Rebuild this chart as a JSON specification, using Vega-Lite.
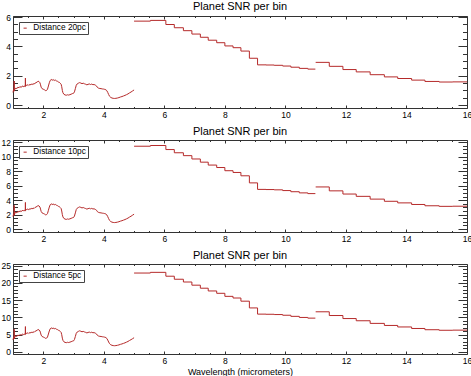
{
  "$schema": "https://vega.github.io/schema/vega-lite/v6.json",
  "padding": 0,
  "background": "white",
  "config": {
    "font": "Liberation Sans",
    "view": {"stroke": "#333", "strokeWidth": 1},
    "title": {"fontSize": 11, "fontWeight": "normal", "color": "black", "anchor": "middle", "offset": 1, "font": "Liberation Sans"},
    "axis": {"grid": false, "domain": false, "tickColor": "#333", "labelFont": "Liberation Sans", "labelFontSize": 8.5, "labelColor": "black", "labelFlush": false, "labelOverlap": false, "titleFont": "Liberation Sans", "titleFontSize": 9, "titleFontWeight": "normal", "titleColor": "black"},
    "legend": {"orient": "top-left", "offset": 6, "strokeColor": "#444", "fillColor": "white", "padding": 2, "symbolType": "stroke", "symbolSize": 10, "symbolStrokeWidth": 1, "labelFontSize": 8.3, "labelFont": "Liberation Sans", "labelColor": "black", "labelOffset": 4, "cornerRadius": 0}
  },
  "resolve": {"scale": {"color": "independent"}, "legend": {"color": "independent"}},
  "spacing": 4,
  "datasets": {
    "s20": [
      {"x":1.00,"y":0.86},{"x":1.02,"y":1.05},{"x":1.035,"y":0.98},{"x":1.04,"y":1.64},{"x":1.045,"y":0.95},{"x":1.06,"y":1.10},{"x":1.10,"y":1.16},{"x":1.13,"y":1.12},{"x":1.16,"y":1.22},{"x":1.20,"y":1.18},{"x":1.23,"y":1.27},{"x":1.26,"y":1.21},{"x":1.30,"y":1.26},{"x":1.33,"y":1.31},{"x":1.36,"y":1.24},{"x":1.39,"y":1.30},{"x":1.405,"y":1.27},{"x":1.41,"y":1.84},{"x":1.415,"y":1.28},{"x":1.44,"y":1.34},{"x":1.47,"y":1.39},{"x":1.50,"y":1.33},{"x":1.53,"y":1.40},{"x":1.56,"y":1.36},{"x":1.60,"y":1.43},{"x":1.63,"y":1.39},{"x":1.66,"y":1.45},{"x":1.70,"y":1.43},{"x":1.73,"y":1.50},{"x":1.76,"y":1.52},{"x":1.80,"y":1.58},{"x":1.83,"y":1.62},{"x":1.86,"y":1.60},{"x":1.89,"y":1.52},{"x":1.91,"y":1.38},{"x":1.93,"y":1.22},{"x":1.96,"y":1.12},{"x":2.00,"y":1.08},{"x":2.04,"y":1.04},{"x":2.08,"y":0.98},{"x":2.11,"y":1.00},{"x":2.14,"y":1.08},{"x":2.17,"y":1.30},{"x":2.20,"y":1.52},{"x":2.23,"y":1.68},{"x":2.26,"y":1.74},{"x":2.29,"y":1.72},{"x":2.32,"y":1.69},{"x":2.35,"y":1.73},{"x":2.38,"y":1.67},{"x":2.41,"y":1.70},{"x":2.44,"y":1.64},{"x":2.47,"y":1.62},{"x":2.50,"y":1.57},{"x":2.53,"y":1.55},{"x":2.56,"y":1.49},{"x":2.59,"y":1.42},{"x":2.61,"y":1.25},{"x":2.63,"y":1.00},{"x":2.65,"y":0.84},{"x":2.68,"y":0.74},{"x":2.72,"y":0.69},{"x":2.76,"y":0.67},{"x":2.80,"y":0.70},{"x":2.84,"y":0.68},{"x":2.88,"y":0.71},{"x":2.92,"y":0.74},{"x":2.96,"y":0.78},{"x":3.00,"y":0.80},{"x":3.03,"y":0.90},{"x":3.06,"y":1.12},{"x":3.09,"y":1.35},{"x":3.12,"y":1.44},{"x":3.16,"y":1.49},{"x":3.20,"y":1.53},{"x":3.24,"y":1.50},{"x":3.28,"y":1.46},{"x":3.32,"y":1.49},{"x":3.36,"y":1.45},{"x":3.40,"y":1.42},{"x":3.44,"y":1.38},{"x":3.48,"y":1.41},{"x":3.52,"y":1.44},{"x":3.56,"y":1.40},{"x":3.60,"y":1.43},{"x":3.64,"y":1.39},{"x":3.68,"y":1.40},{"x":3.72,"y":1.36},{"x":3.76,"y":1.30},{"x":3.79,"y":1.20},{"x":3.83,"y":1.15},{"x":3.87,"y":1.13},{"x":3.91,"y":1.12},{"x":3.95,"y":1.10},{"x":3.99,"y":1.09},{"x":4.03,"y":1.07},{"x":4.07,"y":1.04},{"x":4.10,"y":0.98},{"x":4.13,"y":0.86},{"x":4.16,"y":0.72},{"x":4.19,"y":0.60},{"x":4.23,"y":0.52},{"x":4.27,"y":0.48},{"x":4.31,"y":0.46},{"x":4.35,"y":0.45},{"x":4.40,"y":0.46},{"x":4.45,"y":0.48},{"x":4.50,"y":0.51},{"x":4.55,"y":0.55},{"x":4.60,"y":0.58},{"x":4.65,"y":0.62},{"x":4.70,"y":0.66},{"x":4.75,"y":0.71},{"x":4.80,"y":0.76},{"x":4.85,"y":0.83},{"x":4.90,"y":0.89},{"x":4.95,"y":0.96},{"x":5.00,"y":1.03}
    ],
    "b20": [
      {"s":"c2","x":5.00,"y":5.72},{"s":"c2","x":5.54,"y":5.77},{"s":"c2","x":6.05,"y":5.49},{"s":"c2","x":6.33,"y":5.27},{"s":"c2","x":6.63,"y":5.07},{"s":"c2","x":6.91,"y":4.84},{"s":"c2","x":7.19,"y":4.62},{"s":"c2","x":7.45,"y":4.42},{"s":"c2","x":7.73,"y":4.25},{"s":"c2","x":8.00,"y":4.03},{"s":"c2","x":8.27,"y":3.91},{"s":"c2","x":8.53,"y":3.68},{"s":"c2","x":8.81,"y":3.19},{"s":"c2","x":9.08,"y":2.74},{"s":"c2","x":9.36,"y":2.73},{"s":"c2","x":9.63,"y":2.71},{"s":"c2","x":9.91,"y":2.66},{"s":"c2","x":10.18,"y":2.58},{"s":"c2","x":10.46,"y":2.50},{"s":"c2","x":10.74,"y":2.45},{"s":"c2","x":10.99,"y":2.45},
      {"s":"c3","x":11.00,"y":2.91},{"s":"c3","x":11.45,"y":2.64},{"s":"c3","x":11.90,"y":2.42},{"s":"c3","x":12.34,"y":2.26},{"s":"c3","x":12.80,"y":2.07},{"s":"c3","x":13.27,"y":1.92},{"s":"c3","x":13.71,"y":1.81},{"s":"c3","x":14.17,"y":1.70},{"s":"c3","x":14.61,"y":1.61},{"s":"c3","x":15.08,"y":1.57},{"s":"c3","x":15.53,"y":1.58},{"s":"c3","x":16.00,"y":1.58}
    ],
    "s10": [
      {"x":1.00,"y":1.72},{"x":1.02,"y":2.10},{"x":1.035,"y":1.96},{"x":1.04,"y":3.28},{"x":1.045,"y":1.90},{"x":1.06,"y":2.20},{"x":1.10,"y":2.32},{"x":1.13,"y":2.24},{"x":1.16,"y":2.44},{"x":1.20,"y":2.36},{"x":1.23,"y":2.54},{"x":1.26,"y":2.42},{"x":1.30,"y":2.52},{"x":1.33,"y":2.62},{"x":1.36,"y":2.48},{"x":1.39,"y":2.60},{"x":1.405,"y":2.54},{"x":1.41,"y":3.68},{"x":1.415,"y":2.56},{"x":1.44,"y":2.68},{"x":1.47,"y":2.78},{"x":1.50,"y":2.66},{"x":1.53,"y":2.80},{"x":1.56,"y":2.72},{"x":1.60,"y":2.86},{"x":1.63,"y":2.78},{"x":1.66,"y":2.90},{"x":1.70,"y":2.86},{"x":1.73,"y":3.00},{"x":1.76,"y":3.04},{"x":1.80,"y":3.16},{"x":1.83,"y":3.24},{"x":1.86,"y":3.20},{"x":1.89,"y":3.04},{"x":1.91,"y":2.76},{"x":1.93,"y":2.44},{"x":1.96,"y":2.24},{"x":2.00,"y":2.16},{"x":2.04,"y":2.08},{"x":2.08,"y":1.96},{"x":2.11,"y":2.00},{"x":2.14,"y":2.16},{"x":2.17,"y":2.60},{"x":2.20,"y":3.04},{"x":2.23,"y":3.36},{"x":2.26,"y":3.48},{"x":2.29,"y":3.44},{"x":2.32,"y":3.38},{"x":2.35,"y":3.46},{"x":2.38,"y":3.34},{"x":2.41,"y":3.40},{"x":2.44,"y":3.28},{"x":2.47,"y":3.24},{"x":2.50,"y":3.14},{"x":2.53,"y":3.10},{"x":2.56,"y":2.98},{"x":2.59,"y":2.84},{"x":2.61,"y":2.50},{"x":2.63,"y":2.00},{"x":2.65,"y":1.68},{"x":2.68,"y":1.48},{"x":2.72,"y":1.38},{"x":2.76,"y":1.34},{"x":2.80,"y":1.40},{"x":2.84,"y":1.36},{"x":2.88,"y":1.42},{"x":2.92,"y":1.48},{"x":2.96,"y":1.56},{"x":3.00,"y":1.60},{"x":3.03,"y":1.80},{"x":3.06,"y":2.24},{"x":3.09,"y":2.70},{"x":3.12,"y":2.88},{"x":3.16,"y":2.98},{"x":3.20,"y":3.06},{"x":3.24,"y":3.00},{"x":3.28,"y":2.92},{"x":3.32,"y":2.98},{"x":3.36,"y":2.90},{"x":3.40,"y":2.84},{"x":3.44,"y":2.76},{"x":3.48,"y":2.82},{"x":3.52,"y":2.88},{"x":3.56,"y":2.80},{"x":3.60,"y":2.86},{"x":3.64,"y":2.78},{"x":3.68,"y":2.80},{"x":3.72,"y":2.72},{"x":3.76,"y":2.60},{"x":3.79,"y":2.40},{"x":3.83,"y":2.30},{"x":3.87,"y":2.26},{"x":3.91,"y":2.24},{"x":3.95,"y":2.20},{"x":3.99,"y":2.18},{"x":4.03,"y":2.14},{"x":4.07,"y":2.08},{"x":4.10,"y":1.96},{"x":4.13,"y":1.72},{"x":4.16,"y":1.44},{"x":4.19,"y":1.20},{"x":4.23,"y":1.04},{"x":4.27,"y":0.96},{"x":4.31,"y":0.92},{"x":4.35,"y":0.90},{"x":4.40,"y":0.92},{"x":4.45,"y":0.96},{"x":4.50,"y":1.02},{"x":4.55,"y":1.10},{"x":4.60,"y":1.16},{"x":4.65,"y":1.24},{"x":4.70,"y":1.32},{"x":4.75,"y":1.42},{"x":4.80,"y":1.52},{"x":4.85,"y":1.66},{"x":4.90,"y":1.78},{"x":4.95,"y":1.92},{"x":5.00,"y":2.06}
    ],
    "b10": [
      {"s":"c2","x":5.00,"y":11.44},{"s":"c2","x":5.54,"y":11.54},{"s":"c2","x":6.05,"y":10.98},{"s":"c2","x":6.33,"y":10.54},{"s":"c2","x":6.63,"y":10.14},{"s":"c2","x":6.91,"y":9.68},{"s":"c2","x":7.19,"y":9.24},{"s":"c2","x":7.45,"y":8.84},{"s":"c2","x":7.73,"y":8.50},{"s":"c2","x":8.00,"y":8.06},{"s":"c2","x":8.27,"y":7.82},{"s":"c2","x":8.53,"y":7.36},{"s":"c2","x":8.81,"y":6.38},{"s":"c2","x":9.08,"y":5.48},{"s":"c2","x":9.36,"y":5.46},{"s":"c2","x":9.63,"y":5.42},{"s":"c2","x":9.91,"y":5.32},{"s":"c2","x":10.18,"y":5.16},{"s":"c2","x":10.46,"y":5.00},{"s":"c2","x":10.74,"y":4.90},{"s":"c2","x":10.99,"y":4.90},
      {"s":"c3","x":11.00,"y":5.82},{"s":"c3","x":11.45,"y":5.28},{"s":"c3","x":11.90,"y":4.84},{"s":"c3","x":12.34,"y":4.52},{"s":"c3","x":12.80,"y":4.14},{"s":"c3","x":13.27,"y":3.84},{"s":"c3","x":13.71,"y":3.62},{"s":"c3","x":14.17,"y":3.40},{"s":"c3","x":14.61,"y":3.22},{"s":"c3","x":15.08,"y":3.14},{"s":"c3","x":15.53,"y":3.16},{"s":"c3","x":16.00,"y":3.16}
    ],
    "s5": [
      {"x":1.00,"y":3.44},{"x":1.02,"y":4.20},{"x":1.035,"y":3.92},{"x":1.04,"y":6.56},{"x":1.045,"y":3.80},{"x":1.06,"y":4.40},{"x":1.10,"y":4.64},{"x":1.13,"y":4.48},{"x":1.16,"y":4.88},{"x":1.20,"y":4.72},{"x":1.23,"y":5.08},{"x":1.26,"y":4.84},{"x":1.30,"y":5.04},{"x":1.33,"y":5.24},{"x":1.36,"y":4.96},{"x":1.39,"y":5.20},{"x":1.405,"y":5.08},{"x":1.41,"y":7.36},{"x":1.415,"y":5.12},{"x":1.44,"y":5.36},{"x":1.47,"y":5.56},{"x":1.50,"y":5.32},{"x":1.53,"y":5.60},{"x":1.56,"y":5.44},{"x":1.60,"y":5.72},{"x":1.63,"y":5.56},{"x":1.66,"y":5.80},{"x":1.70,"y":5.72},{"x":1.73,"y":6.00},{"x":1.76,"y":6.08},{"x":1.80,"y":6.32},{"x":1.83,"y":6.48},{"x":1.86,"y":6.40},{"x":1.89,"y":6.08},{"x":1.91,"y":5.52},{"x":1.93,"y":4.88},{"x":1.96,"y":4.48},{"x":2.00,"y":4.32},{"x":2.04,"y":4.16},{"x":2.08,"y":3.92},{"x":2.11,"y":4.00},{"x":2.14,"y":4.32},{"x":2.17,"y":5.20},{"x":2.20,"y":6.08},{"x":2.23,"y":6.72},{"x":2.26,"y":6.96},{"x":2.29,"y":6.88},{"x":2.32,"y":6.76},{"x":2.35,"y":6.92},{"x":2.38,"y":6.68},{"x":2.41,"y":6.80},{"x":2.44,"y":6.56},{"x":2.47,"y":6.48},{"x":2.50,"y":6.28},{"x":2.53,"y":6.20},{"x":2.56,"y":5.96},{"x":2.59,"y":5.68},{"x":2.61,"y":5.00},{"x":2.63,"y":4.00},{"x":2.65,"y":3.36},{"x":2.68,"y":2.96},{"x":2.72,"y":2.76},{"x":2.76,"y":2.68},{"x":2.80,"y":2.80},{"x":2.84,"y":2.72},{"x":2.88,"y":2.84},{"x":2.92,"y":2.96},{"x":2.96,"y":3.12},{"x":3.00,"y":3.20},{"x":3.03,"y":3.60},{"x":3.06,"y":4.48},{"x":3.09,"y":5.40},{"x":3.12,"y":5.76},{"x":3.16,"y":5.96},{"x":3.20,"y":6.12},{"x":3.24,"y":6.00},{"x":3.28,"y":5.84},{"x":3.32,"y":5.96},{"x":3.36,"y":5.80},{"x":3.40,"y":5.68},{"x":3.44,"y":5.52},{"x":3.48,"y":5.64},{"x":3.52,"y":5.76},{"x":3.56,"y":5.60},{"x":3.60,"y":5.72},{"x":3.64,"y":5.56},{"x":3.68,"y":5.60},{"x":3.72,"y":5.44},{"x":3.76,"y":5.20},{"x":3.79,"y":4.80},{"x":3.83,"y":4.60},{"x":3.87,"y":4.52},{"x":3.91,"y":4.48},{"x":3.95,"y":4.40},{"x":3.99,"y":4.36},{"x":4.03,"y":4.28},{"x":4.07,"y":4.16},{"x":4.10,"y":3.92},{"x":4.13,"y":3.44},{"x":4.16,"y":2.88},{"x":4.19,"y":2.40},{"x":4.23,"y":2.08},{"x":4.27,"y":1.92},{"x":4.31,"y":1.84},{"x":4.35,"y":1.80},{"x":4.40,"y":1.84},{"x":4.45,"y":1.92},{"x":4.50,"y":2.04},{"x":4.55,"y":2.20},{"x":4.60,"y":2.32},{"x":4.65,"y":2.48},{"x":4.70,"y":2.64},{"x":4.75,"y":2.84},{"x":4.80,"y":3.04},{"x":4.85,"y":3.32},{"x":4.90,"y":3.56},{"x":4.95,"y":3.84},{"x":5.00,"y":4.12}
    ],
    "b5": [
      {"s":"c2","x":5.00,"y":22.88},{"s":"c2","x":5.54,"y":23.08},{"s":"c2","x":6.05,"y":21.96},{"s":"c2","x":6.33,"y":21.08},{"s":"c2","x":6.63,"y":20.28},{"s":"c2","x":6.91,"y":19.36},{"s":"c2","x":7.19,"y":18.48},{"s":"c2","x":7.45,"y":17.68},{"s":"c2","x":7.73,"y":17.00},{"s":"c2","x":8.00,"y":16.12},{"s":"c2","x":8.27,"y":15.64},{"s":"c2","x":8.53,"y":14.72},{"s":"c2","x":8.81,"y":12.76},{"s":"c2","x":9.08,"y":10.96},{"s":"c2","x":9.36,"y":10.92},{"s":"c2","x":9.63,"y":10.84},{"s":"c2","x":9.91,"y":10.64},{"s":"c2","x":10.18,"y":10.32},{"s":"c2","x":10.46,"y":10.00},{"s":"c2","x":10.74,"y":9.80},{"s":"c2","x":10.99,"y":9.80},
      {"s":"c3","x":11.00,"y":11.64},{"s":"c3","x":11.45,"y":10.56},{"s":"c3","x":11.90,"y":9.68},{"s":"c3","x":12.34,"y":9.04},{"s":"c3","x":12.80,"y":8.28},{"s":"c3","x":13.27,"y":7.68},{"s":"c3","x":13.71,"y":7.24},{"s":"c3","x":14.17,"y":6.80},{"s":"c3","x":14.61,"y":6.44},{"s":"c3","x":15.08,"y":6.28},{"s":"c3","x":15.53,"y":6.32},{"s":"c3","x":16.00,"y":6.32}
    ]
  },
  "vconcat": [
    {
      "title": "Planet SNR per bin",
      "width": 454, "height": 92,
      "resolve": {"axis": {"x": "independent", "y": "independent"}},
      "layer": [
        {"data": {"name": "s20"}, "mark": {"type": "line", "strokeWidth": 1},
         "encoding": {
           "x": {"field": "x", "type": "quantitative", "scale": {"domain": [1, 16], "nice": false, "zero": false},
                 "axis": {"title": null, "values": [1,1.5,2,2.5,3,3.5,4,4.5,5,5.5,6,6.5,7,7.5,8,8.5,9,9.5,10,10.5,11,11.5,12,12.5,13,13.5,14,14.5,15,15.5,16], "labelExpr": "datum.value % 2 == 0 ? format(datum.value, 'd') : ''", "tickSize": {"condition": {"test": "datum.value % 2 == 0", "value": -3}, "value": -1.5}, "labelPadding": 5}},
           "y": {"field": "y", "type": "quantitative", "scale": {"domain": [-0.2, 6.07], "nice": false, "zero": false},
                 "axis": {"title": null, "values": [0,0.5,1,1.5,2,2.5,3,3.5,4,4.5,5,5.5,6], "labelExpr": "datum.value % 2 == 0 ? format(datum.value, 'd') : ''", "tickSize": {"condition": {"test": "datum.value % 2 == 0", "value": -9}, "value": -4.5}, "labelPadding": 11.5}},
           "color": {"datum": "Distance 20pc", "type": "nominal", "scale": {"range": ["#b52a2a"]}, "legend": {"title": null, "encode": {"symbols": {"update": {"stroke": {"value": "#999"}}}}}}
         }},
        {"data": {"name": "b20"}, "mark": {"type": "line", "strokeWidth": 1, "interpolate": "step-after"},
         "encoding": {
           "x": {"field": "x", "type": "quantitative", "scale": {"domain": [1, 16], "nice": false, "zero": false}, "axis": null},
           "y": {"field": "y", "type": "quantitative", "scale": {"domain": [-0.2, 6.07], "nice": false, "zero": false}, "axis": null},
           "detail": {"field": "s", "type": "nominal"},
           "color": {"datum": "Distance 20pc", "type": "nominal"}
         }},
        {"data": {"name": "b20"}, "mark": {"type": "line", "opacity": 0},
         "encoding": {
           "x": {"field": "x", "type": "quantitative", "scale": {"domain": [1, 16], "nice": false, "zero": false},
                 "axis": {"orient": "top", "title": null, "labels": false, "values": [1,1.5,2,2.5,3,3.5,4,4.5,5,5.5,6,6.5,7,7.5,8,8.5,9,9.5,10,10.5,11,11.5,12,12.5,13,13.5,14,14.5,15,15.5,16], "tickSize": {"condition": {"test": "datum.value % 2 == 0", "value": -3}, "value": -1.5}}},
           "y": {"field": "y", "type": "quantitative", "scale": {"domain": [-0.2, 6.07], "nice": false, "zero": false},
                 "axis": {"orient": "right", "title": null, "labels": false, "values": [0,0.5,1,1.5,2,2.5,3,3.5,4,4.5,5,5.5,6], "tickSize": {"condition": {"test": "datum.value % 2 == 0", "value": -9}, "value": -4.5}}},
           "detail": {"field": "s", "type": "nominal"}
         }}
      ]
    },
    {
      "title": "Planet SNR per bin",
      "width": 454, "height": 92,
      "resolve": {"axis": {"x": "independent", "y": "independent"}},
      "layer": [
        {"data": {"name": "s10"}, "mark": {"type": "line", "strokeWidth": 1},
         "encoding": {
           "x": {"field": "x", "type": "quantitative", "scale": {"domain": [1, 16], "nice": false, "zero": false},
                 "axis": {"title": null, "values": [1,1.5,2,2.5,3,3.5,4,4.5,5,5.5,6,6.5,7,7.5,8,8.5,9,9.5,10,10.5,11,11.5,12,12.5,13,13.5,14,14.5,15,15.5,16], "labelExpr": "datum.value % 2 == 0 ? format(datum.value, 'd') : ''", "tickSize": {"condition": {"test": "datum.value % 2 == 0", "value": -3}, "value": -1.5}, "labelPadding": 5}},
           "y": {"field": "y", "type": "quantitative", "scale": {"domain": [-0.4, 12.3], "nice": false, "zero": false},
                 "axis": {"title": null, "values": [0,0.5,1,1.5,2,2.5,3,3.5,4,4.5,5,5.5,6,6.5,7,7.5,8,8.5,9,9.5,10,10.5,11,11.5,12], "labelExpr": "datum.value % 2 == 0 ? format(datum.value, 'd') : ''", "tickSize": {"condition": {"test": "datum.value % 2 == 0", "value": -9}, "value": -4.5}, "labelPadding": 11.5}},
           "color": {"datum": "Distance 10pc", "type": "nominal", "scale": {"range": ["#b52a2a"]}, "legend": {"title": null, "encode": {"symbols": {"update": {"stroke": {"value": "#999"}}}}}}
         }},
        {"data": {"name": "b10"}, "mark": {"type": "line", "strokeWidth": 1, "interpolate": "step-after"},
         "encoding": {
           "x": {"field": "x", "type": "quantitative", "scale": {"domain": [1, 16], "nice": false, "zero": false}, "axis": null},
           "y": {"field": "y", "type": "quantitative", "scale": {"domain": [-0.4, 12.3], "nice": false, "zero": false}, "axis": null},
           "detail": {"field": "s", "type": "nominal"},
           "color": {"datum": "Distance 10pc", "type": "nominal"}
         }},
        {"data": {"name": "b10"}, "mark": {"type": "line", "opacity": 0},
         "encoding": {
           "x": {"field": "x", "type": "quantitative", "scale": {"domain": [1, 16], "nice": false, "zero": false},
                 "axis": {"orient": "top", "title": null, "labels": false, "values": [1,1.5,2,2.5,3,3.5,4,4.5,5,5.5,6,6.5,7,7.5,8,8.5,9,9.5,10,10.5,11,11.5,12,12.5,13,13.5,14,14.5,15,15.5,16], "tickSize": {"condition": {"test": "datum.value % 2 == 0", "value": -3}, "value": -1.5}}},
           "y": {"field": "y", "type": "quantitative", "scale": {"domain": [-0.4, 12.3], "nice": false, "zero": false},
                 "axis": {"orient": "right", "title": null, "labels": false, "values": [0,0.5,1,1.5,2,2.5,3,3.5,4,4.5,5,5.5,6,6.5,7,7.5,8,8.5,9,9.5,10,10.5,11,11.5,12], "tickSize": {"condition": {"test": "datum.value % 2 == 0", "value": -9}, "value": -4.5}}},
           "detail": {"field": "s", "type": "nominal"}
         }}
      ]
    },
    {
      "title": "Planet SNR per bin",
      "width": 454, "height": 90,
      "resolve": {"axis": {"x": "independent", "y": "independent"}},
      "layer": [
        {"data": {"name": "s5"}, "mark": {"type": "line", "strokeWidth": 1},
         "encoding": {
           "x": {"field": "x", "type": "quantitative", "scale": {"domain": [1, 16], "nice": false, "zero": false},
                 "axis": {"title": "Wavelength (micrometers)", "titlePadding": 1, "values": [1,1.5,2,2.5,3,3.5,4,4.5,5,5.5,6,6.5,7,7.5,8,8.5,9,9.5,10,10.5,11,11.5,12,12.5,13,13.5,14,14.5,15,15.5,16], "labelExpr": "datum.value % 2 == 0 ? format(datum.value, 'd') : ''", "tickSize": {"condition": {"test": "datum.value % 2 == 0", "value": -3}, "value": -1.5}, "labelPadding": 5}},
           "y": {"field": "y", "type": "quantitative", "scale": {"domain": [-0.6, 25.5], "nice": false, "zero": false},
                 "axis": {"title": null, "values": [0,1,2,3,4,5,6,7,8,9,10,11,12,13,14,15,16,17,18,19,20,21,22,23,24,25], "labelExpr": "datum.value % 5 == 0 ? format(datum.value, 'd') : ''", "tickSize": {"condition": {"test": "datum.value % 5 == 0", "value": -9}, "value": -4.5}, "labelPadding": 11.5}},
           "color": {"datum": "Distance 5pc", "type": "nominal", "scale": {"range": ["#b52a2a"]}, "legend": {"title": null, "encode": {"symbols": {"update": {"stroke": {"value": "#999"}}}}}}
         }},
        {"data": {"name": "b5"}, "mark": {"type": "line", "strokeWidth": 1, "interpolate": "step-after"},
         "encoding": {
           "x": {"field": "x", "type": "quantitative", "scale": {"domain": [1, 16], "nice": false, "zero": false}, "axis": null},
           "y": {"field": "y", "type": "quantitative", "scale": {"domain": [-0.6, 25.5], "nice": false, "zero": false}, "axis": null},
           "detail": {"field": "s", "type": "nominal"},
           "color": {"datum": "Distance 5pc", "type": "nominal"}
         }},
        {"data": {"name": "b5"}, "mark": {"type": "line", "opacity": 0},
         "encoding": {
           "x": {"field": "x", "type": "quantitative", "scale": {"domain": [1, 16], "nice": false, "zero": false},
                 "axis": {"orient": "top", "title": null, "labels": false, "values": [1,1.5,2,2.5,3,3.5,4,4.5,5,5.5,6,6.5,7,7.5,8,8.5,9,9.5,10,10.5,11,11.5,12,12.5,13,13.5,14,14.5,15,15.5,16], "tickSize": {"condition": {"test": "datum.value % 2 == 0", "value": -3}, "value": -1.5}}},
           "y": {"field": "y", "type": "quantitative", "scale": {"domain": [-0.6, 25.5], "nice": false, "zero": false},
                 "axis": {"orient": "right", "title": null, "labels": false, "values": [0,1,2,3,4,5,6,7,8,9,10,11,12,13,14,15,16,17,18,19,20,21,22,23,24,25], "tickSize": {"condition": {"test": "datum.value % 5 == 0", "value": -9}, "value": -4.5}}},
           "detail": {"field": "s", "type": "nominal"}
         }}
      ]
    }
  ]
}
